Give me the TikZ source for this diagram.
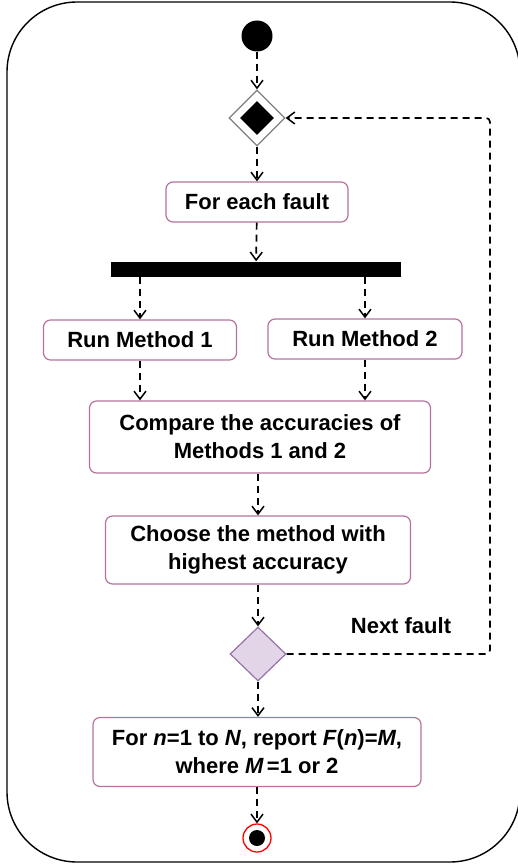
\documentclass[tikz,border=0pt]{standalone}
\usepackage{fontspec}
\setmainfont{Liberation Sans}
\usetikzlibrary{arrows.meta,shapes.geometric}

\definecolor{boxline}{HTML}{B5739D}
\definecolor{decfill}{HTML}{E1D5E7}
\definecolor{decline}{HTML}{9673A6}

\begin{document}
\begin{tikzpicture}
[x=1pt,y=-1pt,%
  every node/.style={font=\bfseries\fontsize{22}{28}\selectfont,inner sep=0pt},%
  actbox/.style={draw=boxline,line width=1.2pt,rounded corners=7pt,fill=white,align=center},%
  flow/.style={line width=1.7pt,dash pattern=on 7pt off 5pt,-{Straight Barb[length=8pt,width=12pt,line width=1.5pt]}}]
\useasboundingbox (0,0) rectangle (517,864);
\draw[line width=1.4pt,rounded corners=70pt] (7,2) rectangle (520,862);

% start and merge
\node (start) [circle,fill=black,minimum size=31pt] at (257,36) {};
\node (merge) [diamond,draw=gray,line width=1.2pt,fill=white,minimum width=56pt,minimum height=56pt] at (257,118) {};
\node [diamond,fill=black,minimum width=34pt,minimum height=34pt] at (merge) {};

% activities
\node (each) [actbox,minimum width=182pt,minimum height=40pt] at (257,202) {For each fault};
\node (fork) [rectangle,fill=black,minimum width=290pt,minimum height=15pt] at (256,269) {};
\node (run1) [actbox,minimum width=193pt,minimum height=40pt] at (140,340) {Run Method 1};
\node (run2) [actbox,minimum width=194pt,minimum height=40pt] at (365,339) {Run Method 2};
\node (cmp) [actbox,minimum width=341pt,minimum height=72pt] at (260,437)
  {Compare the accuracies of\\Methods 1 and 2};
\node (best) [actbox,minimum width=305pt,minimum height=68pt] at (258,550)
  {Choose the method with\\highest accuracy};
\node (dec) [diamond,draw=decline,line width=1.2pt,fill=decfill,minimum width=56pt,minimum height=54pt] at (258,654) {};
\node (next) at (401,626) {Next fault};
\node (report) [actbox,minimum width=328pt,minimum height=69pt] at (257,752)
  {For \textit{n}=1 to \textit{N}, report \textit{F}(\textit{n})=\textit{M},\\where \textit{M}\hspace{3pt}=1 or 2};

% end
\node (stop) [circle,draw=red,line width=1.3pt,fill=white,minimum size=28pt] at (257,838) {};
\node [circle,fill=black,minimum size=16pt] at (stop) {};

% connectors
\draw[flow] (start) -- (merge);
\draw[flow] (merge) -- (each);
\draw[flow] (each) -- (fork);
\draw[flow] (run1.north |- fork.south) -- (run1);
\draw[flow] (run2.north |- fork.south) -- (run2);
\draw[flow] (run1) -- (run1.south |- cmp.north);
\draw[flow] (run2) -- (run2.south |- cmp.north);
\draw[flow] (cmp.south -| best.north) -- (best);
\draw[flow] (best) -- (dec);
\draw[flow,rounded corners=4pt] (dec.east) -- (490,654) -- (490,118) -- (merge.east);
\draw[flow] (dec) -- (report.north -| dec.south);
\draw[flow] (report.south -| stop.north) -- (stop);
\end{tikzpicture}
\end{document}
